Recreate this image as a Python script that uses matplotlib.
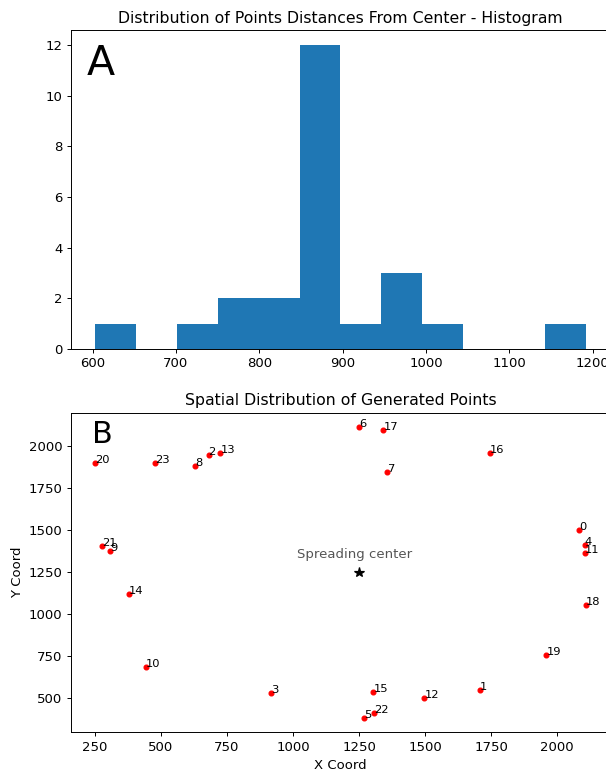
import numpy as np
import matplotlib
matplotlib.use("Agg")
import matplotlib.pyplot as plt

# point coordinates (index = label)
x_coords = [2082, 1708, 680, 915, 2104, 1267, 1251, 1355, 628, 307, 443, 2104,
            1497, 725, 378, 1304, 1746, 1342, 2107, 1959, 251, 278, 1308, 476]
y_coords = [1504, 549, 1950, 532, 1415, 385, 2113, 1844, 1881, 1377, 684, 1366,
            504, 1957, 1123, 538, 1957, 2097, 1053, 759, 1899, 1405, 415, 1899]
center = (1250, 1250)
n_bins = 12
x_ticks = [250, 500, 750, 1000, 1250, 1500, 1750, 2000]
y_ticks = [500, 750, 1000, 1250, 1500, 1750, 2000]

xs = np.array(x_coords)
ys = np.array(y_coords)
distances = np.sqrt((xs - center[0]) ** 2 + (ys - center[1]) ** 2)

plt.rcParams["xtick.labelsize"] = 11
plt.rcParams["ytick.labelsize"] = 11
plt.rcParams["axes.titlesize"] = 13
plt.rcParams["axes.labelsize"] = 11

dpi = 87
fig = plt.figure(figsize=(606 / dpi, 774 / dpi), dpi=dpi)

# histogram (right edge runs past the canvas, like the cropped original)
ax1 = fig.add_axes([0.1167, 0.5491, 0.89, 0.4121])
ax1.hist(distances, bins=n_bins)
ax1.set_title("Distribution of Points Distances From Center - Histogram")
ax1.text(0.03, 0.86, "A", transform=ax1.transAxes, fontsize=34, va="baseline")
ax1.spines["right"].set_visible(False)

# scatter
ax2 = fig.add_axes([0.1167, 0.0539, 0.89, 0.413])
ax2.scatter(xs, ys, s=16, color="red", zorder=3)
for i, (x, y) in enumerate(zip(x_coords, y_coords)):
    ax2.annotate(str(i), (x, y), fontsize=9.5)
ax2.plot(center[0], center[1], "*", color="black", markersize=8)
ax2.annotate("Spreading center", center, xytext=(-4, 12), textcoords="offset points",
             ha="center", color="#555555", fontsize=11)
ax2.set_xticks(x_ticks)
ax2.set_yticks(y_ticks)
ax2.set_title("Spatial Distribution of Generated Points")
ax2.set_xlabel("X Coord")
ax2.set_ylabel("Y Coord")
ax2.text(0.04, 0.904, "B", transform=ax2.transAxes, fontsize=25, va="baseline")
ax2.spines["right"].set_visible(False)

fig.savefig("out.png", dpi=dpi)
